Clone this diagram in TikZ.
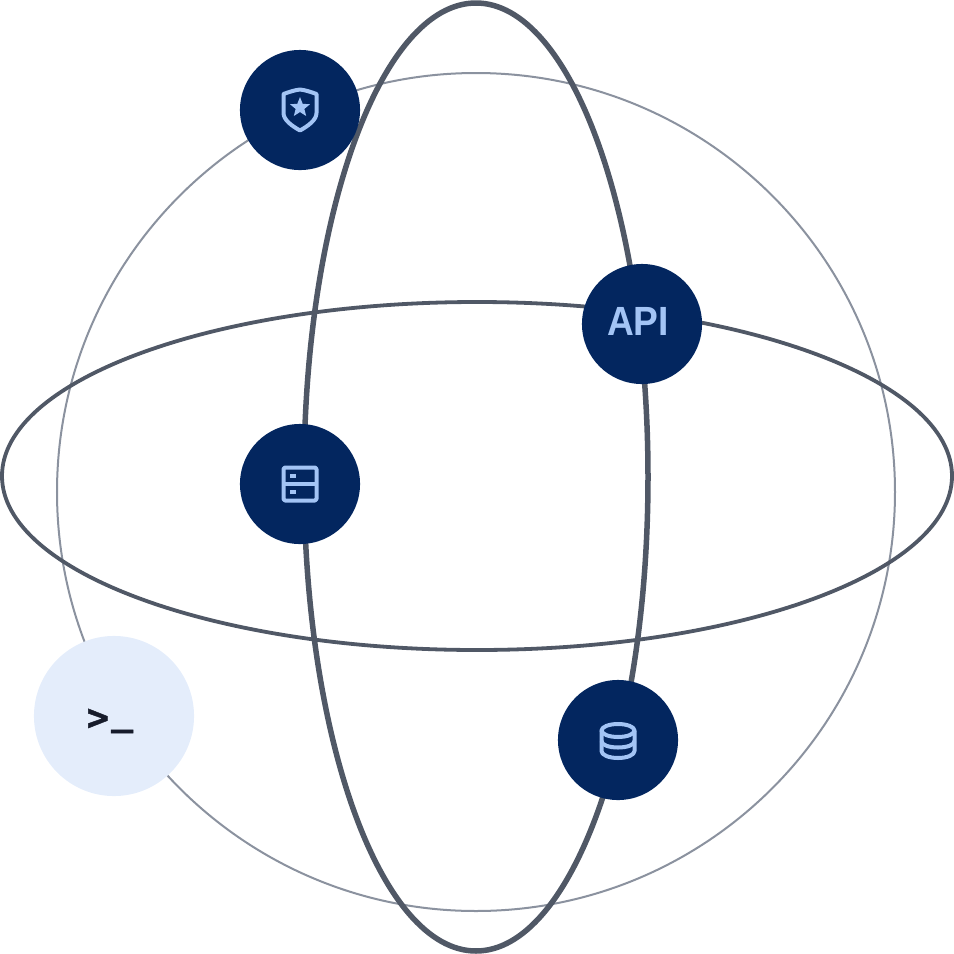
\documentclass[tikz,border=0pt]{standalone}
\usepackage{fontspec}
\setmainfont{Liberation Sans}
\newfontfamily\termfont[BoldFeatures={FakeBold=1.2}]{DejaVu Sans Mono}
\usepackage{xcolor}
\usetikzlibrary{shapes.geometric}
\definecolor{hubblue}{HTML}{03265F}
\definecolor{iconblue}{HTML}{A3C4F5}
\definecolor{termblue}{HTML}{E4EDFB}
\definecolor{termink}{HTML}{171C2B}
\definecolor{orbitgray}{HTML}{505866}
\definecolor{ringgray}{HTML}{8B929F}

\begin{document}
\begin{tikzpicture}[
    x=0.01cm, y=-0.01cm,
    ring/.style={draw=ringgray, line width=0.02cm},
    orbitwide/.style={draw=orbitgray, line width=0.038cm},
    orbittall/.style={draw=orbitgray, line width=0.055cm},
    hub/.style={circle, fill=hubblue, minimum size=1.2cm, inner sep=0pt},
    termhub/.style={circle, fill=termblue, minimum size=1.6cm, inner sep=0pt},
    icon/.style={draw=iconblue, line width=0.04cm, line join=round},
    iconfill/.style={fill=iconblue}
]
\useasboundingbox (0,0) rectangle (954,954);
\draw [ring] (476,492) circle [radius=419];
\draw [orbitwide] (477,476) ellipse [x radius=475, y radius=174];
\draw [orbittall] (476,477) ellipse [x radius=172, y radius=474];

\node (shield) [hub] at (300,110) {};
\node (server) [hub] at (300,484) {};
\node (api) [hub] at (642,324) {};
\node (db) [hub] at (618,740) {};
\node (term) [termhub] at (114,716) {};
\node (apitext) [text=iconblue, font=\bfseries\fontsize{11.6}{11.6}\selectfont, xscale=0.91, transform shape] at (638,321) {API};
\node (termtext) [text=termink, font=\termfont\bfseries\fontsize{10.5}{10.5}\selectfont, text height=0.3cm, text depth=0.1cm] at (110,720) {>\kern0.02cm\raisebox{0.055cm}{\_}};

% shield icon
\draw [icon] (283.5,94) .. controls (289,92) and (295,90) .. (300,89.5) .. controls (305,90) and (311,92) .. (316.5,94)
    -- (316.5,113) .. controls (316.5,120) and (308,126) .. (300,130.5) .. controls (292,126) and (283.5,120) .. (283.5,113) -- cycle;
\node (star) [star, star points=5, star point ratio=2.3, iconfill, minimum size=0.21cm, inner sep=0pt] at (300,107.5) {};

% server icon
\draw [icon, rounded corners=0.015cm] (283.5,467.5) rectangle (316.5,500.5);
\draw [icon] (283.5,484) -- (316.5,484);
\fill [iconblue] (290,474) rectangle (296,477.5);
\fill [iconblue] (290,490) rectangle (296,493.5);

% database icon
\draw [icon] (618,730.5) ellipse [x radius=16.5, y radius=6.5];
\draw [icon] (601.5,730.5) -- (601.5,751) .. controls (601.5,755) and (609,758) .. (618,758) .. controls (627,758) and (634.5,755) .. (634.5,751) -- (634.5,730.5);
\draw [icon] (601.5,741) .. controls (601.5,745) and (609,747.5) .. (618,747.5) .. controls (627,747.5) and (634.5,745) .. (634.5,741);
\end{tikzpicture}
\end{document}
